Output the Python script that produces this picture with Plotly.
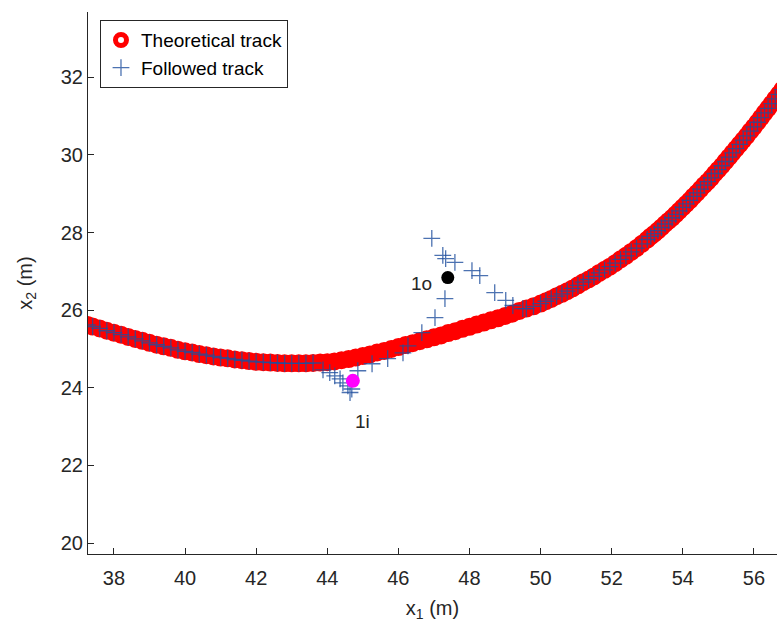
import plotly.graph_objects as go

# Theoretical track (red circles)
theo_x = [37.25, 37.4, 37.6, 37.8, 38.0, 38.2, 38.4, 38.6, 38.8, 39.0, 39.2, 39.4, 39.6, 39.8,
          40.0, 40.2, 40.4, 40.6, 40.8, 41.0, 41.2, 41.4, 41.6, 41.8, 42.0, 42.2, 42.4, 42.6,
          42.8, 43.0, 43.2, 43.4, 43.6, 43.8, 44.0, 44.2, 44.4, 44.6, 44.8, 45.0, 45.2, 45.4,
          45.6, 45.8, 46.0, 46.2, 46.4, 46.6, 46.8, 47.0, 47.2, 47.4, 47.6, 47.8, 48.0, 48.2,
          48.4, 48.6, 48.8, 49.0, 49.2, 49.4, 49.6, 49.8, 50.0,
          50.15, 50.3, 50.45, 50.6, 50.75, 50.9, 51.05, 51.2, 51.35, 51.5, 51.65, 51.8, 51.95,
          52.1, 52.25, 52.4, 52.55, 52.7, 52.85, 53.0,
          53.1, 53.2, 53.3, 53.4, 53.5, 53.6, 53.7, 53.8, 53.9, 54.0, 54.1, 54.2, 54.3, 54.4,
          54.5, 54.6, 54.7, 54.8, 54.9, 55.0, 55.1, 55.2, 55.3, 55.4, 55.5, 55.6, 55.7, 55.8,
          55.9, 56.0, 56.1, 56.2, 56.3, 56.4, 56.5, 56.6, 56.7, 56.8]
theo_y = [25.62, 25.58, 25.53, 25.47, 25.42, 25.37, 25.31, 25.26, 25.21, 25.16, 25.11, 25.07,
          25.03, 24.98, 24.94, 24.91, 24.87, 24.84, 24.81, 24.78, 24.76, 24.73, 24.71, 24.69,
          24.67, 24.66, 24.65, 24.64, 24.63, 24.63, 24.63, 24.63, 24.64, 24.65, 24.66, 24.68,
          24.71, 24.74, 24.78, 24.82, 24.86, 24.91, 24.95, 25.00, 25.05, 25.10, 25.15, 25.20,
          25.25, 25.30, 25.35, 25.41, 25.46, 25.52, 25.57, 25.63, 25.68, 25.74, 25.79, 25.85,
          25.91, 25.98, 26.04, 26.10, 26.17,
          26.23, 26.29, 26.36, 26.42, 26.49, 26.56, 26.64, 26.72, 26.79, 26.87, 26.96, 27.04,
          27.12, 27.21, 27.31, 27.40, 27.50, 27.60, 27.71, 27.82,
          27.90, 27.97, 28.05, 28.13, 28.22, 28.30, 28.38, 28.47, 28.56, 28.65, 28.74, 28.83,
          28.93, 29.02, 29.12, 29.22, 29.31, 29.41, 29.52, 29.62, 29.72, 29.83, 29.94, 30.05,
          30.16, 30.27, 30.38, 30.49, 30.61, 30.72, 30.84, 30.96, 31.08, 31.20, 31.32, 31.44,
          31.56, 31.68]

# Followed track deviations (blue +)
dip_x = [43.88, 44.07, 44.21, 44.36, 44.44, 44.58, 44.69, 44.64, 44.86, 45.26, 45.70, 46.13, 46.27]
dip_y = [24.46, 24.39, 24.31, 24.23, 24.13, 24.05, 23.97, 23.88, 24.44, 24.62, 24.75, 24.90, 25.08]
exc_x = [46.66, 47.03, 47.31, 46.94, 47.25, 47.33, 47.59, 48.07, 48.29, 48.71, 49.02, 49.22, 49.50]
exc_y = [25.42, 25.81, 26.30, 27.85, 27.41, 27.33, 27.23, 27.02, 26.89, 26.45, 26.25, 26.12, 26.04]

follow_x = theo_x[:33] + dip_x + exc_x + theo_x[62:]
follow_y = theo_y[:33] + dip_y + exc_y + theo_y[62:]

# Special points
pt_in = (44.72, 24.18)
pt_out = (47.39, 26.84)
lbl_in = ("1i", 45.0, 23.12)
lbl_out = ("1o", 46.66, 26.70)

x_ticks = [38, 40, 42, 44, 46, 48, 50, 52, 54, 56]
y_ticks = [20, 22, 24, 26, 28, 30, 32]

axc = "#262626"
font = "Liberation Sans, Arial, sans-serif"

fig = go.Figure()
fig.add_trace(go.Scatter(
    x=theo_x, y=theo_y, mode="markers", name="Theoretical track",
    marker=dict(symbol="circle-open", size=11, color="#FF0000",
                line=dict(width=7, color="#FF0000"))))
fig.add_trace(go.Scatter(
    x=follow_x, y=follow_y, mode="markers", name="Followed track",
    marker=dict(symbol="cross-thin-open", size=12, color="#1f4f9e", opacity=0.8,
                line=dict(width=1.3, color="#1f4f9e"))))
fig.add_trace(go.Scatter(
    x=[pt_in[0]], y=[pt_in[1]], mode="markers", showlegend=False,
    marker=dict(symbol="circle", size=14, color="#FF00FF")))
fig.add_trace(go.Scatter(
    x=[pt_out[0]], y=[pt_out[1]], mode="markers", showlegend=False,
    marker=dict(symbol="circle", size=13, color="#000000")))

for t, ax_, ay_ in (lbl_in, lbl_out):
    fig.add_annotation(x=ax_, y=ay_, text=t, showarrow=False,
                       font=dict(size=19, color=axc, family=font))

fig.update_layout(
    width=777, height=626,
    margin=dict(l=88, r=0, t=12, b=72),
    paper_bgcolor="white", plot_bgcolor="white",
    font=dict(family=font, color=axc, size=20),
    showlegend=True,
    legend=dict(x=0.0174, y=0.985, xanchor="left", yanchor="top",
                bgcolor="white", bordercolor=axc, borderwidth=1,
                font=dict(size=19, color="#000000", family=font),
                itemwidth=30, tracegroupgap=0),
)
fig.update_xaxes(range=[37.27, 56.65], tickvals=x_ticks, ticks="inside", ticklen=6,
                 tickcolor=axc, showline=True, linecolor=axc, linewidth=1,
                 showgrid=False, zeroline=False, mirror=False,
                 tickfont=dict(size=20, color=axc), ticklabelstandoff=6,
                 title=dict(text="x<sub>1</sub> (m)", font=dict(size=20, color=axc), standoff=12))
fig.update_yaxes(range=[19.72, 33.68], tickvals=y_ticks, ticks="inside", ticklen=6,
                 tickcolor=axc, showline=True, linecolor=axc, linewidth=1,
                 showgrid=False, zeroline=False, mirror=False,
                 tickfont=dict(size=20, color=axc),
                 title=dict(text="x<sub>2</sub> (m)", font=dict(size=20, color=axc), standoff=22))

fig.write_html("out.html")
